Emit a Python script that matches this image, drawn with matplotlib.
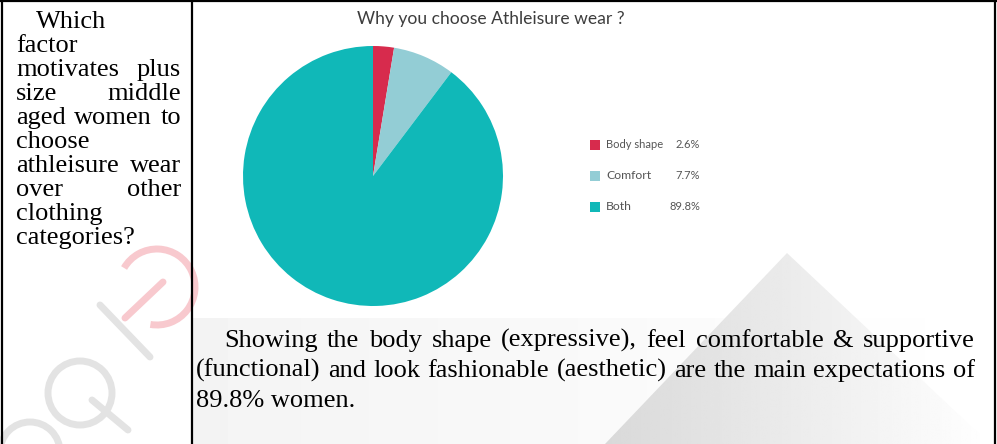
import matplotlib
matplotlib.use('Agg')
import matplotlib.pyplot as plt
import numpy as np
from matplotlib.patches import Polygon, Rectangle, Circle, Arc

# pie data
labels = ['Body shape', 'Comfort', 'Both']
shares = [2.6, 7.7, 89.8]
colors = ['#d72b4d', '#93cdd5', '#10b8b8']
chart_title = 'Why you choose Athleisure wear ?'

# table text, already broken into the printed lines (True = justified line)
question_lines = [('Which', False), ('factor', False), ('motivates plus', True),
                  ('size middle', True), ('aged women to', True), ('choose', False),
                  ('athleisure wear', True), ('over other', True), ('clothing', False),
                  ('categories?', False)]
answer_lines = [('Showing the body shape (expressive), feel comfortable & supportive', True),
                ('(functional) and look fashionable (aesthetic) are the main expectations of', True),
                ('89.8% women.', False)]

W, H = 997, 444
fig = plt.figure(figsize=(W / 100, H / 100), dpi=100)
fig.patch.set_facecolor('white')
page = fig.add_axes([0, 0, 1, 1])
page.set_xlim(0, W)
page.set_ylim(H, 0)
page.axis('off')

# --- faint watermark in the background ---
band = np.linspace(0.955, 1.0, 200).reshape(1, -1)
page.imshow(band, extent=[192, W, H, 318], cmap='gray', vmin=0, vmax=1,
            aspect='auto', zorder=0)
tri = Polygon([(787, 253), (605, H), (990, H)], closed=True, facecolor='none',
              edgecolor='none')
page.add_patch(tri)
grad = np.linspace(0.85, 1.0, 200).reshape(1, -1)
im = page.imshow(grad, extent=[605, 990, H, 253], cmap='gray', vmin=0, vmax=1,
                 aspect='auto', zorder=0.5)
im.set_clip_path(tri)

pink = '#f8c9ce'
page.add_patch(Arc((157, 287), 76, 76, theta1=-150, theta2=100, edgecolor=pink, lw=5, zorder=0.6))
page.plot([125, 163], [318, 282], color=pink, lw=5, solid_capstyle='round', zorder=0.6)
grey = '#e3e3e3'
page.plot([100, 150], [305, 357], color=grey, lw=5, solid_capstyle='round', zorder=0.6)
page.add_patch(Circle((80, 393), 32, facecolor='none', edgecolor=grey, lw=5, zorder=0.6))
page.plot([92, 128], [400, 430], color=grey, lw=5, solid_capstyle='round', zorder=0.6)
page.add_patch(Circle((30, 452), 30, facecolor='none', edgecolor=grey, lw=5, zorder=0.6))

# --- table borders ---
lk = dict(color='black', lw=1.6, zorder=5, solid_capstyle='butt')
page.plot([0, W], [1.5, 1.5], **lk)
page.plot([1.5, 1.5], [0, H], **lk)
page.plot([192, 192], [0, H], **lk)
page.plot([995, 995], [0, H], **lk)

renderer = fig.canvas.get_renderer()


def put_line(text, x0, x1, y, justify, size):
    st = dict(family='Liberation Serif', fontsize=size, color='black',
              va='baseline', ha='left', zorder=6)
    words = text.split()
    if not justify or len(words) == 1:
        page.text(x0, y, text, **st)
        return
    arts = [page.text(0, y, w, **st) for w in words]
    widths = [a.get_window_extent(renderer).width for a in arts]
    gap = (x1 - x0 - sum(widths)) / (len(words) - 1)
    x = x0
    for a, w in zip(arts, widths):
        a.set_x(x)
        x += w + gap


for i, (line, just) in enumerate(question_lines):
    x0 = 36 if i == 0 else 16
    put_line(line, x0, 181, 28 + i * 24, just, 19)

for i, (line, just) in enumerate(answer_lines):
    x0 = 224 if i == 0 else 196
    put_line(line, x0, 975, 347 + i * 30, just, 19)

# --- pie chart ---
cx, cy, r = 373, 176, 130
pie_ax = fig.add_axes([(cx - r) / W, 1 - (cy + r) / H, 2 * r / W, 2 * r / H])
pie_ax.pie(shares, colors=colors, startangle=90, counterclock=False, radius=1,
           wedgeprops=dict(linewidth=0))
pie_ax.set_xlim(-1, 1)
pie_ax.set_ylim(-1, 1)

page.text(491, 24, chart_title, family='Lato', fontsize=12.6, color='#3d3d3d',
          ha='center', va='baseline', zorder=6)

# legend
for i, (lab, val, col) in enumerate(zip(labels, shares, colors)):
    y = 144.5 + i * 31
    page.add_patch(Rectangle((590, y - 5), 10, 10, facecolor=col, edgecolor='none', zorder=6))
    page.text(606, y, lab, family='Lato', fontsize=8 if i == 0 else 8.8, color='#555555',
              ha='left', va='center', zorder=6)
    page.text(700, y, f'{val}%', family='Lato', fontsize=8, color='#555555',
              ha='right', va='center', zorder=6)

fig.savefig('out.png', dpi=100)
